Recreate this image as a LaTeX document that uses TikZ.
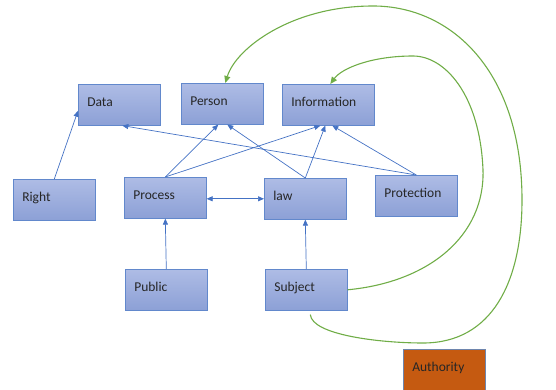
\documentclass[tikz,border=0pt]{standalone}
\usepackage{fontspec}
\setmainfont{Carlito}
\usetikzlibrary{arrows.meta}
\definecolor{boxtop}{RGB}{174,188,229}
\definecolor{boxbot}{RGB}{140,160,214}
\definecolor{boxline}{RGB}{98,136,204}
\definecolor{linkblue}{RGB}{68,114,196}
\definecolor{linkgreen}{RGB}{112,173,71}
\definecolor{authfill}{RGB}{197,90,17}
\begin{document}
\begin{tikzpicture}[x=1pt,y=-1pt,
  box/.style={draw=boxline, line width=0.6pt, top color=boxtop, bottom color=boxbot,
    anchor=north west, minimum width=82pt, minimum height=41pt, inner xsep=9pt, inner ysep=0pt,
    text width=64pt, align=left, text height=10pt, text depth=6pt,
    font=\fontsize{13.5}{16}\selectfont, text=black!85},
  link/.style={draw=linkblue, line width=0.7pt, -{Triangle[length=6pt,width=5pt]}},
  loop/.style={draw=linkgreen, line width=1.1pt, -{Triangle[length=7pt,width=6pt]}}]
		\useasboundingbox (0,0) rectangle (556,390);
		% top row
		\node[box] (data) at (78,84) {Data};
		\node[box] (person) at (181,83) {Person};
		\node[box, minimum width=92pt, text width=74pt] (info) at (282,84) {Information};
		% middle row
		\node[box] (right) at (13,179) {Right};
		\node[box] (process) at (124,177) {Process};
		\node[box] (law) at (264,178) {law};
		\node[box] (protect) at (375,175) {Protection};
		% bottom row
		\node[box] (public) at (125,269) {Public};
		\node[box] (subject) at (265,269) {Subject};
		\node[box, top color=authfill, bottom color=authfill, draw=boxline!60!gray] (auth) at (403,349) {Authority};
		
		\draw[link] (right.north) -- ([yshift=-6pt]data.west);
		\draw[link] (protect.north) -- ([xshift=3pt]data.south);
		\draw[link] (process.north) -- ([xshift=-4pt]person.south);
		\draw[link] (process.north) -- ([xshift=-8pt]info.south);
		\draw[link] (law.north) -- ([xshift=5pt]person.south);
		\draw[link] (law.north) -- ([xshift=-3pt]info.south);
		\draw[link] (protect.north) -- ([xshift=4pt]info.south);
		\draw[link, {Triangle[length=6pt,width=5pt]}-{Triangle[length=6pt,width=5pt]}]
		  ([yshift=-1pt]process.east) -- ([yshift=-1pt]process.east -| law.west);
		\draw[link] (public.north) -- (process.south);
		\draw[link] (subject.north) -- (law.south);
		
		% green curves
		\draw[loop] (subject.east) .. controls (430,282) and (485,235) .. (483,170)
		  .. controls (480,95) and (445,56) .. (413,56)
		  .. controls (372,56) and (342,68) .. ([xshift=2pt]info.north);
		\draw[loop] ([xshift=4pt,yshift=-4pt]subject.south) .. controls (312,335) and (380,343) .. (423,343)
		  .. controls (492,343) and (522,282) .. (522,200)
		  .. controls (522,72) and (452,6) .. (373,6)
		  .. controls (292,6) and (236,48) .. ([xshift=3pt]person.north);
\end{tikzpicture}
\end{document}
